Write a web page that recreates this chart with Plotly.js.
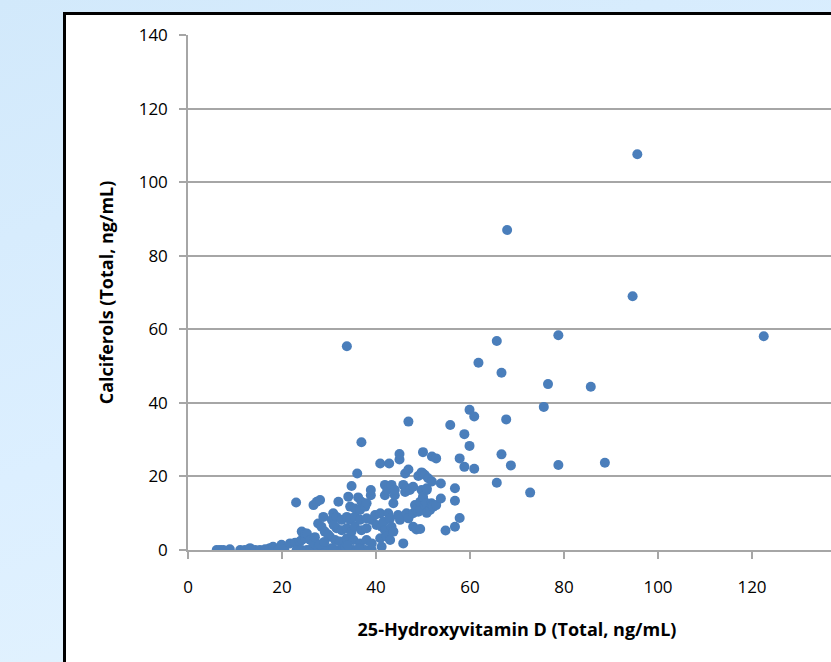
<!DOCTYPE html>
<html>
<head>
<meta charset="utf-8">
<script src="https://cdn.plot.ly/plotly-3.0.1.min.js"></script>
<style>
  html, body { margin:0; padding:0; width:831px; height:662px; overflow:hidden; }
  body { background: linear-gradient(160deg, #d2e9fb 0%, #dcefff 50%, #e6f4fd 100%); position:relative; }
  #panel { position:absolute; left:63px; top:12px; width:900px; height:700px; background:#ffffff;
           border-left:3px solid #000; border-top:3px solid #000; box-sizing:border-box; }
  #chart { position:absolute; left:0; top:0; width:880px; height:662px; }
</style>
</head>
<body>
<div id="panel"></div>
<div id="chart"></div>
<script>
const xLabel = "25-Hydroxyvitamin D (Total, ng/mL)";
const yLabel = "Calciferols (Total, ng/mL)";
const xTicks = [0, 20, 40, 60, 80, 100, 120, 140];
const yTicks = [0, 20, 40, 60, 80, 100, 120, 140];

// 25-Hydroxyvitamin D values (x) and calciferol values (y)
const hydroxyD = [
  6.1,6.8,7.5,8.9,11.1,12.1,13.2,14.3,15.3,16.4,17.4,18.1,19.2,19.9,20.5,21.7,22.8,23.0,23.1,23.8,24.2,24.2,24.2,24.9,24.9,25.3,25.3,
  26.0,26.0,26.7,26.7,27.4,27.7,27.7,28.1,28.4,28.8,29.1,29.5,30.2,30.6,30.9,31.3,31.6,31.6,32.0,32.3,32.3,32.7,32.7,33.8,33.8,33.8,33.8,
  34.1,34.5,34.5,34.8,34.8,35.2,35.2,35.5,35.5,35.5,36.0,36.2,36.6,36.6,36.6,36.9,36.9,36.9,37.7,37.7,38.0,38.0,38.0,38.0,38.9,38.9,
  39.1,39.1,39.1,39.8,29.8,27.0,28.0,30.5,31.0,30.9,33.5,36.4,34.0,29.0,
  40.1,40.9,40.9,40.9,41.2,41.2,41.6,41.9,41.9,41.9,42.3,42.4,42.6,42.8,43.0,43.0,43.3,43.3,43.7,43.7,44.0,44.0,44.7,45.0,45.0,45.1,
  45.8,45.8,46.2,46.2,46.5,46.5,46.9,46.9,46.9,47.2,47.9,47.9,47.9,48.3,48.6,48.6,49.0,49.0,49.4,49.4,49.4,49.7,49.7,50.0,50.0,50.0,50.0,
  50.4,50.4,50.8,50.8,50.8,50.8,51.1,51.5,51.8,51.9,51.9,51.9,52.2,52.8,52.8,53.8,53.8,54.8,55.8,56.8,56.8,56.8,57.8,57.8,58.8,58.8,59.9,59.9,
  60.9,60.9,61.8,65.7,65.7,66.7,66.7,67.7,67.9,68.7,72.8,75.7,76.6,78.8,78.8,85.7,88.7,94.6,95.6,122.5
];
const calciferols = [
  0,0,0,0.2,0,0,0.5,0,0,0.2,0.5,0.9,0,1.4,0.3,1.8,2.0,12.9,0,2.3,0,2.7,5.0,3.2,4.5,0,4.5,
  0,2.7,1.8,12.2,13.1,0.5,7.2,13.6,6.3,9.0,5.0,0,3.6,8.2,10.0,2.7,5.9,9.0,13.1,0,2.3,5.4,8.2,3.2,5.9,9.0,55.4,
  14.5,8.2,11.8,5.0,17.4,0,2.7,6.3,9.0,11.3,20.8,14.3,1.8,8.2,10.9,5.4,13.1,29.3,0,11.8,2.7,5.9,8.6,12.7,14.9,16.3,
  0,1.8,8.2,9.5,4.2,3.5,1.5,0.5,6.8,0.3,0.8,0.4,1.2,2.2,
  6.8,3.2,10.0,23.5,0.9,6.3,7.7,5.4,14.9,17.7,3.6,16.3,10.0,23.5,2.7,8.6,6.3,17.7,5.0,12.7,14.9,16.3,9.5,24.6,26.1,8.2,
  1.8,17.7,15.8,20.8,10.0,16.8,8.6,21.9,34.9,16.3,6.3,10.0,17.2,12.2,5.6,10.9,10.4,20.1,5.7,10.9,13.1,16.3,21.1,14.0,14.5,26.6,20.8,
  12.2,20.4,10.1,12.7,16.3,16.8,19.5,10.9,12.7,12.0,18.6,25.4,11.8,12.2,24.9,14.0,18.1,5.3,34.0,6.3,13.4,16.8,8.7,24.9,22.6,31.5,28.3,38.1,
  22.1,36.3,50.9,18.3,56.8,26.0,48.2,35.5,87.0,23.0,15.6,38.9,45.1,23.1,58.4,44.4,23.7,69.0,107.6,58.1
];

const trace = {
  x: hydroxyD, y: calciferols, type: 'scatter', mode: 'markers',
  marker: { color: '#4a7ebb', size: 10, line: { width: 0 } },
  hoverinfo: 'x+y'
};

const layout = {
  width: 880, height: 662,
  margin: { l: 188, r: 34, t: 35, b: 112 },
  paper_bgcolor: 'rgba(0,0,0,0)', plot_bgcolor: 'rgba(0,0,0,0)',
  showlegend: false,
  font: { family: 'Open Sans, Liberation Sans, sans-serif', color: '#000', size: 17 },
  xaxis: {
    range: [0, 140], tickvals: xTicks, ticktext: xTicks.map(String),
    showgrid: false, zeroline: false, showline: true, linecolor: '#a6a6a6', linewidth: 1.5,
    ticks: 'outside', ticklen: 7, tickcolor: '#a6a6a6', tickwidth: 1.5,
    ticklabelstandoff: 14,
    tickfont: { size: 17, color: '#000' },
    title: { text: xLabel, font: { size: 18, color: '#000', family: 'Open Sans, sans-serif', weight: 'bold' }, standoff: 26 }
  },
  yaxis: {
    range: [0, 140], tickvals: yTicks, ticktext: yTicks.map(String),
    showgrid: true, gridcolor: '#a6a6a6', gridwidth: 1.5, zeroline: false,
    showline: true, linecolor: '#a6a6a6', linewidth: 1.5,
    ticks: 'outside', ticklen: 7, tickcolor: '#a6a6a6', tickwidth: 1.5,
    ticklabelstandoff: 8,
    tickfont: { size: 17, color: '#000' },
    title: { text: yLabel, font: { size: 18, color: '#000', family: 'Open Sans, sans-serif', weight: 'bold' }, standoff: 20 }
  }
};

Plotly.newPlot('chart', [trace], layout, { displayModeBar: false });
</script>
</body>
</html>
